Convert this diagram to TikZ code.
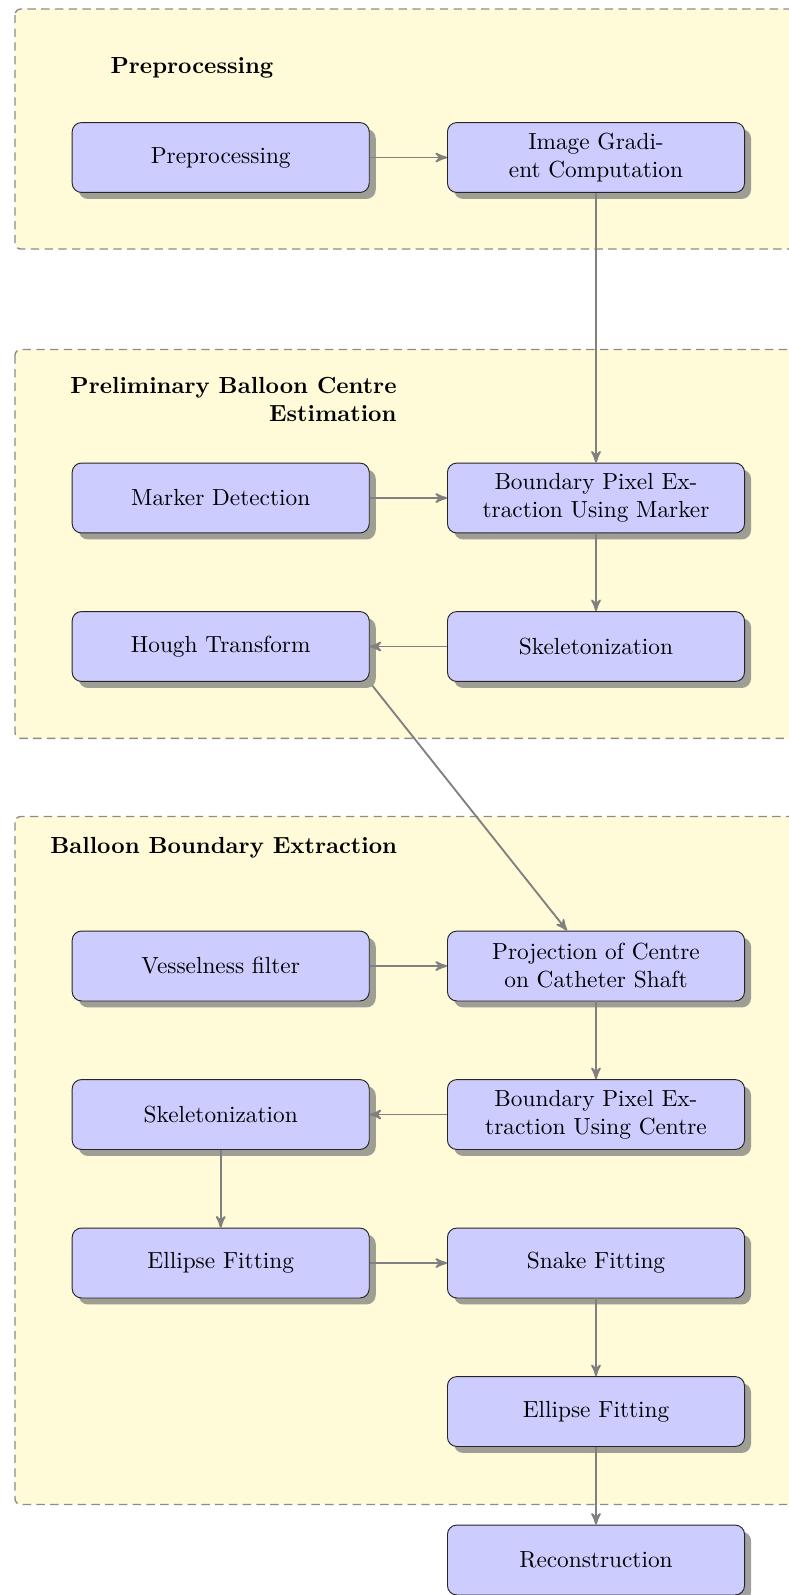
\documentclass[tikz,border=0pt]{standalone}
\usetikzlibrary{shadows,arrows,calc}
\definecolor{grpfill}{RGB}{255,250,215}
\begin{document}
\begin{tikzpicture}[x=0.4292pt,y=-0.4292pt,
  block/.style={draw=black!85, fill=blue!20, rounded corners=4pt, align=center,
    minimum width=127.5pt, minimum height=30pt, inner sep=2pt,
    drop shadow={shadow xshift=2.8pt, shadow yshift=-2.8pt, fill=black!50, opacity=.75}},
  conn/.style={draw=black!50, thick, -stealth'},
  grp/.style={draw=black!45, semithick, fill=grpfill, rounded corners=2.5pt, dash pattern=on 3.6pt off 2.3pt},
  gtitle/.style={font=\bfseries, inner sep=0pt}]
\useasboundingbox (0,0) rectangle (789,1595);
\clip (0,0) rectangle (789,1595);
% groups
\draw[grp] (15,9) rectangle (830,249);
\draw[grp] (15,349.5) rectangle (830,738.3);
\draw[grp] (15,816.5) rectangle (830,1504.5);
\node[gtitle] (t1) at (192,68) {Preprocessing};
\node[gtitle, align=right, anchor=east] (t2) at (397,399) {Preliminary Balloon Centre\\Estimation};
\node[gtitle, anchor=east] (t3) at (397.6,848) {Balloon Boundary Extraction};
% nodes
\node[block] (pre) at (220.7,157.5) {Preprocessing};
\node[block] (grad) at (596,157.5) {Image Gradi-\\ent Computation};
\node[block] (marker) at (220.7,498) {Marker Detection};
\node[block] (bpm) at (596,498) {Boundary Pixel Ex-\\traction Using Marker};
\node[block] (skel1) at (596,646.5) {Skeletonization};
\node[block] (hough) at (220.7,646.5) {Hough Transform};
\node[block] (vessel) at (220.7,966) {Vesselness filter};
\node[block] (proj) at (596,966) {Projection of Centre\\on Catheter Shaft};
\node[block] (bpc) at (596,1114.5) {Boundary Pixel Ex-\\traction Using Centre};
\node[block] (skel2) at (220.7,1114.5) {Skeletonization};
\node[block] (ell1) at (220.7,1263) {Ellipse Fitting};
\node[block] (snake) at (596,1263) {Snake Fitting};
\node[block] (ell2) at (596,1411.5) {Ellipse Fitting};
\node[block] (recon) at (596,1560) {Reconstruction};
% connectors
\path[conn] (pre) -- (grad);
\path[conn] (grad) -- (bpm);
\path[conn] (marker) -- (bpm);
\path[conn] (bpm) -- (skel1);
\path[conn] (skel1) -- (hough);
\path[conn] ($(hough.south east)+(2.5,3.5)$) -- ($(proj.north)+(-29,0)$);
\path[conn] (vessel) -- (proj);
\path[conn] (proj) -- (bpc);
\path[conn] (bpc) -- (skel2);
\path[conn] (skel2) -- (ell1);
\path[conn] (ell1) -- (snake);
\path[conn] (snake) -- (ell2);
\path[conn] (ell2) -- (recon);
\end{tikzpicture}
\end{document}
